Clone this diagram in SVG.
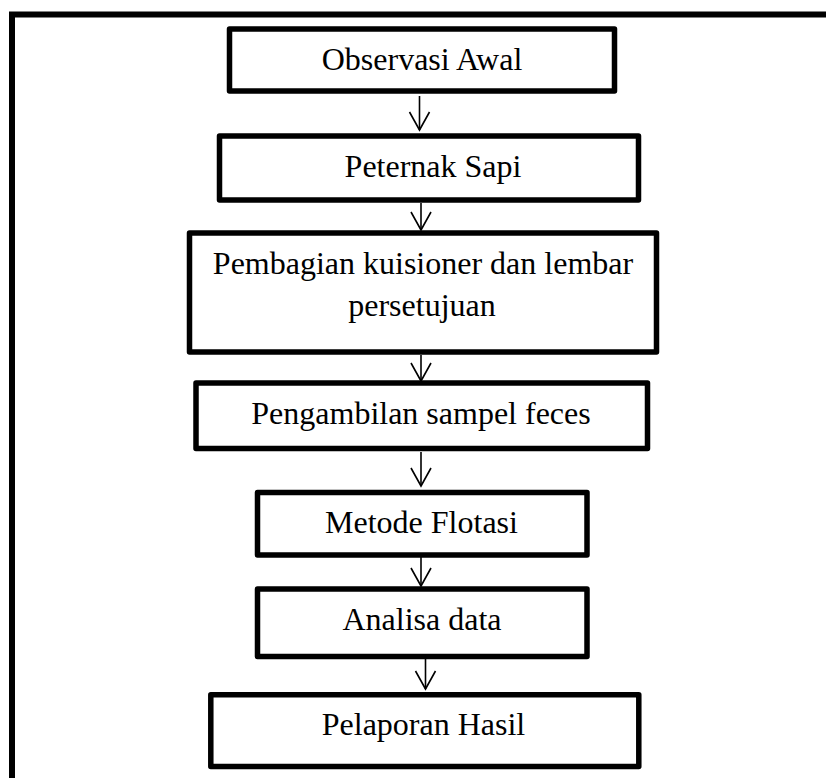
<svg xmlns="http://www.w3.org/2000/svg" width="826" height="778" viewBox="0 0 826 778">
  <style>
    .box { fill: #ffffff; stroke: #000000; stroke-width: 5.5; stroke-linejoin: round; }
    .lbl { font-family: "Liberation Serif", "Times New Roman", serif; font-size: 32px; fill: #000000; text-anchor: middle; }
    .conn { stroke: #000000; stroke-width: 1.6; fill: none; marker-end: url(#arr); }
  </style>
  <defs>
    <marker id="arr" markerUnits="userSpaceOnUse" markerWidth="40" markerHeight="40" refX="0" refY="0" orient="auto" overflow="visible">
      <path d="M-18,-10 L0,0 L-18,10" fill="none" stroke="#000000" stroke-width="1.6" stroke-linejoin="miter"/>
    </marker>
  </defs>
  <rect x="0" y="0" width="826" height="778" fill="#ffffff"/>
  <path id="frame" d="M12,778 V14.5 H826" fill="none" stroke="#000000" stroke-width="6" stroke-linejoin="miter"/>

  <g id="connectors">
    <line class="conn" x1="419.5" y1="96" x2="419.5" y2="130"/>
    <line class="conn" x1="421" y1="203" x2="421" y2="230"/>
    <line class="conn" x1="421" y1="355" x2="421" y2="381"/>
    <line class="conn" x1="421" y1="452" x2="421" y2="486"/>
    <line class="conn" x1="421" y1="557" x2="421" y2="586"/>
    <line class="conn" x1="425.5" y1="659" x2="425.5" y2="689"/>
  </g>

  <g id="n1">
    <rect class="box" x="229.5" y="29" width="385" height="62"/>
    <text class="lbl" x="422" y="70">Observasi Awal</text>
  </g>
  <g id="n2">
    <rect class="box" x="219.5" y="136" width="419" height="64"/>
    <text class="lbl" x="433" y="177">Peternak Sapi</text>
  </g>
  <g id="n3">
    <rect class="box" x="189.5" y="233" width="467" height="119"/>
    <text class="lbl" x="423" y="273.5">Pembagian kuisioner dan lembar</text>
    <text class="lbl" x="422" y="316">persetujuan</text>
  </g>
  <g id="n4">
    <rect class="box" x="196" y="383" width="451.5" height="65.5"/>
    <text class="lbl" x="421" y="424">Pengambilan sampel feces</text>
  </g>
  <g id="n5">
    <rect class="box" x="257.5" y="492.5" width="329.5" height="62.5"/>
    <text class="lbl" x="421.5" y="532.5">Metode Flotasi</text>
  </g>
  <g id="n6">
    <rect class="box" x="257.5" y="589" width="329.5" height="67.5"/>
    <text class="lbl" x="422" y="630">Analisa data</text>
  </g>
  <g id="n7">
    <rect class="box" x="210.8" y="694.8" width="428" height="71.7"/>
    <text class="lbl" x="423.5" y="735">Pelaporan Hasil</text>
  </g>
</svg>
